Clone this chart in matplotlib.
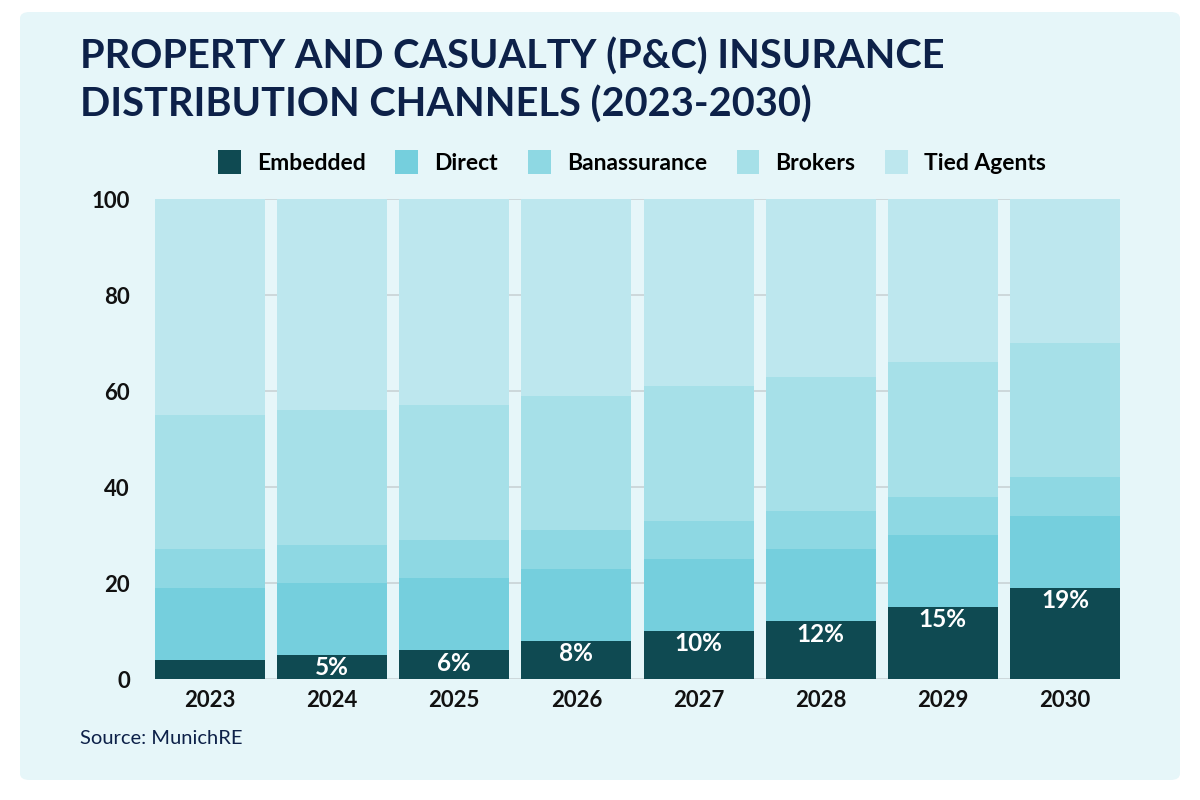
import matplotlib
matplotlib.use("Agg")
import matplotlib.pyplot as plt
from matplotlib.patches import FancyBboxPatch, Patch
import numpy as np

years = ["2023", "2024", "2025", "2026", "2027", "2028", "2029", "2030"]
embedded = [4, 5, 6, 8, 10, 12, 15, 19]
direct = [15, 15, 15, 15, 15, 15, 15, 15]
banassurance = [8, 8, 8, 8, 8, 8, 8, 8]
brokers = [28, 28, 28, 28, 28, 28, 28, 28]
tied_agents = [45, 44, 43, 41, 39, 37, 34, 30]
embedded_labels = ["", "5%", "6%", "8%", "10%", "12%", "15%", "19%"]

series_names = ["Embedded", "Direct", "Banassurance", "Brokers", "Tied Agents"]
colors = ["#0f4a52", "#75cfdd", "#8ed8e3", "#a6e0e8", "#bde7ee"]

plt.rcParams['font.family'] = ['Lato', 'DejaVu Sans']

fig = plt.figure(figsize=(12, 8), dpi=100)
fig.patch.set_facecolor("white")
panel = FancyBboxPatch((20/1200, 20/800), 1160/1200, 768/800,
                       boxstyle="round,pad=0,rounding_size=0.008",
                       transform=fig.transFigure, facecolor="#e6f6f9",
                       edgecolor="none", zorder=-10)
fig.patches.append(panel)

ax = fig.add_axes([155/1200, 121/800, 965/1200, 480/800])
ax.set_zorder(5)
ax.set_facecolor("none")

x = np.arange(len(years))
data = [embedded, direct, banassurance, brokers, tied_agents]
bottom = np.zeros(len(years))
for vals, c, name in zip(data, colors, series_names):
    ax.bar(x, vals, bottom=bottom, width=0.9, color=c, label=name, zorder=2)
    bottom += np.array(vals)

for xi, v, lab in zip(x, embedded, embedded_labels):
    if lab:
        ax.text(xi, v - 2.7, lab, ha="center", va="center", color="white",
                fontsize=17.5, fontweight="bold", zorder=3)

ax.set_xlim(-0.45, len(years) - 0.55)
ax.set_ylim(0, 100)
ax.set_yticks([0, 20, 40, 60, 80, 100])
ax.set_xticks(x)
ax.set_xticklabels(years)
ax.yaxis.grid(True, color="#c8d2d6", linewidth=1.2, zorder=1)
ax.set_axisbelow(True)
for s in ax.spines.values():
    s.set_visible(False)
ax.tick_params(axis="both", length=0, labelsize=16, labelcolor="#111111")
ax.tick_params(axis="y", pad=18)
ax.tick_params(axis="x", pad=8)
for t in ax.get_xticklabels() + ax.get_yticklabels():
    t.set_fontweight("bold")

fig.text(80/1200, 1 - 57/800, "PROPERTY AND CASUALTY (P&C) INSURANCE",
         fontsize=28.6, fontweight="bold", color="#0d2149", va="center", ha="left")
fig.text(80/1200, 1 - 105/800, "DISTRIBUTION CHANNELS (2023-2030)",
         fontsize=28.6, fontweight="bold", color="#0d2149", va="center", ha="left")

handles = [Patch(facecolor=c, edgecolor="none") for c in colors]
fig.legend(handles, series_names, loc="center", bbox_to_anchor=(632/1200, 1 - 162/800),
           ncol=5, frameon=False, handlelength=1.0, handleheight=1.3,
           columnspacing=1.3, handletextpad=0.7,
           prop={"weight": "bold", "size": 16.5})

fig.text(80/1200, 1 - 739/800, "Source: MunichRE", fontsize=14.5, color="#0d2149",
         va="center", ha="left")

fig.savefig("out.png", dpi=100, facecolor="white")
